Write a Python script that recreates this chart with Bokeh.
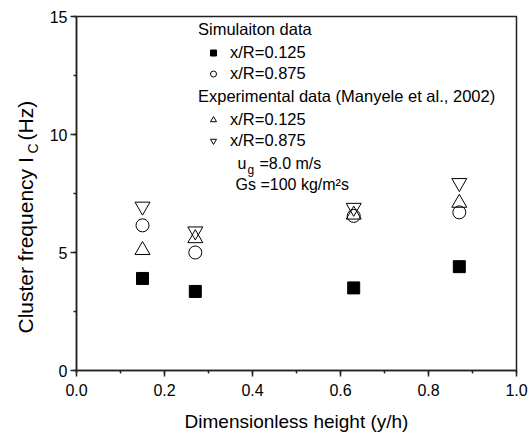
import math
from bokeh.plotting import figure
from bokeh.layouts import row
from bokeh.models import (Range1d, SingleIntervalTicker, PrintfTickFormatter, Legend,
                          LegendItem, Label)
from bokeh.core.properties import value
from bokeh.embed import file_html
from bokeh.resources import INLINE

# ---- data ----
height = [0.15, 0.27, 0.63, 0.87]
sim_0125 = [3.9, 3.35, 3.5, 4.4]
sim_0875 = [6.15, 5.0, 6.55, 6.7]
exp_0125 = [5.1, 5.6, 6.6, 7.1]
exp_0875 = [6.95, 5.9, 6.9, 7.95]

FONT = "Liberation Sans"
H = 441
TOP, BOTTOM = 16, 71

# ---- side panel for the rotated y-axis title (with subscript) ----
# its frame is aligned with the main frame (canvas rows TOP .. H-BOTTOM)
side = figure(width=40, height=H, output_backend="svg", toolbar_location=None,
              x_range=Range1d(0, 40), y_range=Range1d(BOTTOM, H - TOP), min_border=0,
              x_axis_location=None, y_axis_location=None)
side.outline_line_color = None
side.grid.visible = False
side.background_fill_color = "white"
side.border_fill_color = "white"
side.text(x=[25], y=[H - 333], text=["Cluster frequency I"], angle=math.pi / 2,
          text_align="left", text_baseline="middle", text_font=value(FONT),
          text_font_size="21px", text_color="black")
side.text(x=[32], y=[H - 148], text=["C"], angle=math.pi / 2,
          text_align="center", text_baseline="middle", text_font=value(FONT),
          text_font_size="14px", text_color="black")
side.text(x=[25], y=[H - 140], text=["(Hz)"], angle=math.pi / 2,
          text_align="left", text_baseline="middle", text_font=value(FONT),
          text_font_size="21px", text_color="black")

# ---- main plot ----
p = figure(width=490, height=H, output_backend="svg", toolbar_location=None,
           x_range=Range1d(0, 1), y_range=Range1d(0, 15),
           min_border_left=36, min_border_right=14, min_border_top=TOP,
           min_border_bottom=BOTTOM)
p.background_fill_color = "white"
p.border_fill_color = "white"
p.grid.visible = False
p.outline_line_color = "#222222"
p.outline_line_width = 1.5

for ax in (p.xaxis[0], p.yaxis[0]):
    ax.axis_line_color = "#222222"
    ax.axis_line_width = 1.5
    ax.major_tick_line_color = "#222222"
    ax.minor_tick_line_color = "#222222"
    ax.major_tick_line_width = 1.5
    ax.minor_tick_line_width = 1.5
    ax.major_tick_in = 0
    ax.major_tick_out = 6
    ax.minor_tick_in = 0
    ax.minor_tick_out = 3
    ax.major_label_text_font = FONT
    ax.major_label_text_font_size = "16px"
    ax.major_label_text_color = "black"

p.xaxis.ticker = SingleIntervalTicker(interval=0.2, num_minor_ticks=2)
p.yaxis.ticker = SingleIntervalTicker(interval=5, num_minor_ticks=2)
p.xaxis.formatter = PrintfTickFormatter(format="%.1f")
p.yaxis.formatter = PrintfTickFormatter(format="%d")
p.xaxis.major_label_standoff = 7
p.yaxis.major_label_standoff = 3

p.xaxis.axis_label = "Dimensionless height (y/h)"
p.xaxis.axis_label_text_font = FONT
p.xaxis.axis_label_text_font_size = "19px"
p.xaxis.axis_label_text_font_style = "normal"
p.xaxis.axis_label_text_color = "black"
p.xaxis.axis_label_standoff = 12

r1 = p.scatter(height, sim_0125, marker="square", size=12, fill_color="black",
               line_color="black")
r2 = p.scatter(height, sim_0875, marker="circle", size=13, fill_color=None,
               line_color="black", line_width=1)
r3 = p.scatter(height, exp_0125, marker="triangle", size=15, fill_color=None,
               line_color="black", line_width=1)
r4 = p.scatter(height, exp_0875, marker="inverted_triangle", size=15, fill_color=None,
               line_color="black", line_width=1)


def mk_legend(title, items, loc):
    return Legend(items=items, title=title, location=loc, orientation="vertical",
                  padding=0, margin=0, spacing=1, glyph_width=30, glyph_height=15,
                  label_height=20, label_standoff=2, title_standoff=3,
                  border_line_color=None, background_fill_alpha=0,
                  label_text_font=FONT, label_text_font_size="16.5px",
                  title_text_font=FONT, title_text_font_size="16.5px",
                  title_text_font_style="normal", label_text_color="black",
                  title_text_color="black")


lg1 = mk_legend("Simulaiton data",
                [LegendItem(label="x/R=0.125", renderers=[r1]),
                 LegendItem(label="x/R=0.875", renderers=[r2])], (122, 287))
lg2 = mk_legend("Experimental data (Manyele et al., 2002)",
                [LegendItem(label="x/R=0.125", renderers=[r3]),
                 LegendItem(label="x/R=0.875", renderers=[r4])], (122, 220))
p.add_layout(lg1)
p.add_layout(lg2)


def lab(x, y, text, size="16px"):
    p.add_layout(Label(x=x, y=y, x_units="screen", y_units="screen", text=text,
                       text_font=FONT, text_font_size=size, text_align="left",
                       text_baseline="middle", text_color="black"))


# u_g = 8.0 m/s
lab(161, 207, "u")
lab(171, 201, "g", size="12px")
lab(183, 207, "=8.0 m/s")
# Gs = 100 kg/m2 s
lab(159, 186, "Gs =100 kg/m\u00b2s")

layout = row(side, p)
open("out.html", "w").write(file_html(layout, INLINE))
